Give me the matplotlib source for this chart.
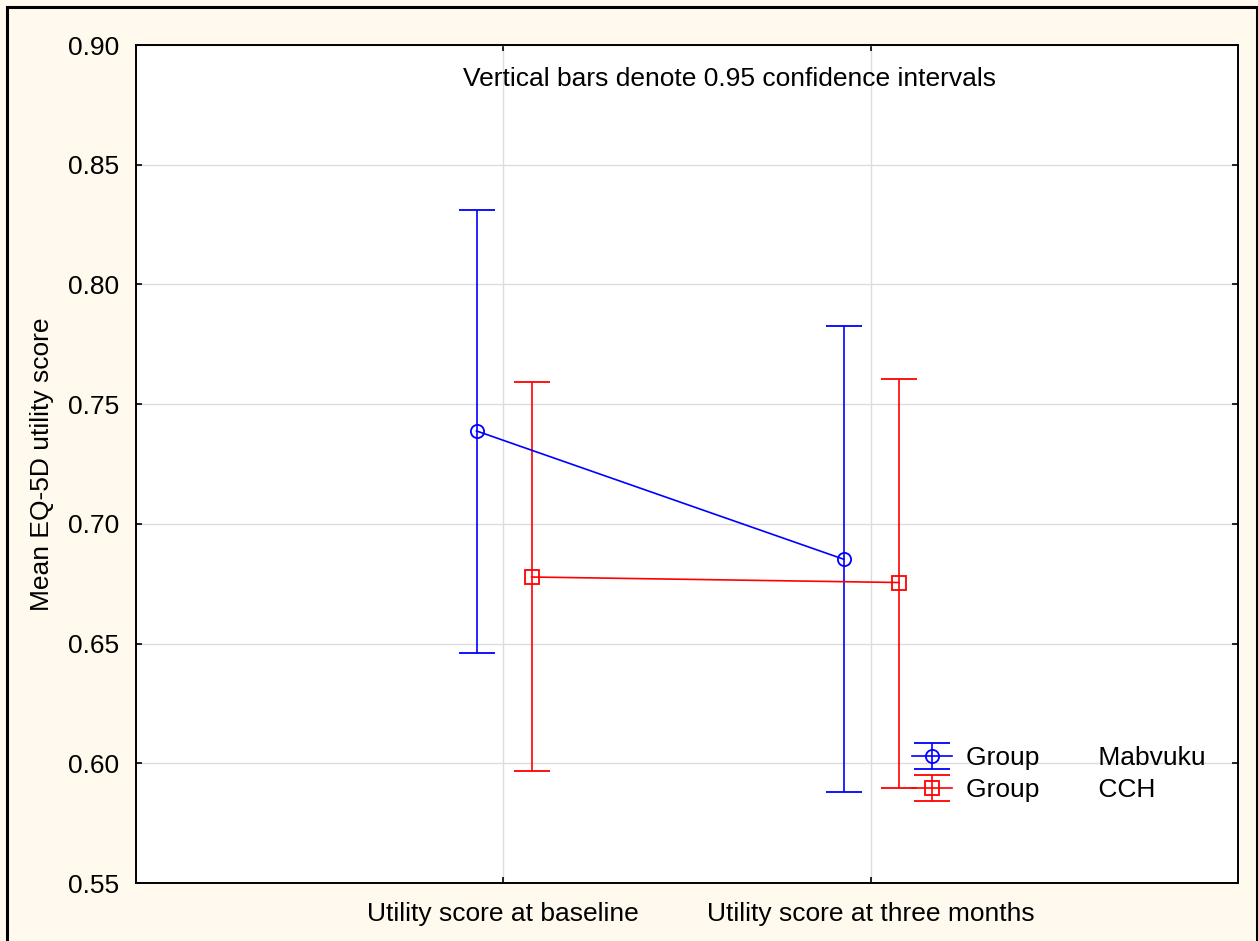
import matplotlib
matplotlib.use("Agg")
import matplotlib.pyplot as plt
from matplotlib.patches import Rectangle
import numpy as np

plt.rcParams['font.family'] = ['Liberation Sans', 'DejaVu Sans']

categories = ["Utility score at baseline", "Utility score at three months"]
mab_mean = [0.7388, 0.6852]
mab_lo = [0.6461, 0.5880]
mab_hi = [0.8311, 0.7826]
cch_mean = [0.6778, 0.6755]
cch_lo = [0.5968, 0.5897]
cch_hi = [0.7592, 0.7605]
yticks = [0.55, 0.60, 0.65, 0.70, 0.75, 0.80, 0.85, 0.90]

W, H = 1258, 941
fig = plt.figure(figsize=(W/100, H/100), dpi=100, facecolor='#FFF9EE')
ax = fig.add_axes([136/W, 1-883/H, (1238-136)/W, (883-45)/H])
ax.set_facecolor('white')

x = np.arange(1, len(categories)+1)
xm = x - 0.073
xc = x + 0.077

mab_mean_a = np.array(mab_mean)
cch_mean_a = np.array(cch_mean)
mab_err = [mab_mean_a - np.array(mab_lo), np.array(mab_hi) - mab_mean_a]
cch_err = [cch_mean_a - np.array(cch_lo), np.array(cch_hi) - cch_mean_a]

cap = 13.3
h1 = ax.errorbar(xm, mab_mean, yerr=mab_err, color='#0000FF', lw=1.2, elinewidth=1.2,
                 capsize=cap, capthick=1.2, marker='o', ms=9.5, mfc='none', mec='#0000FF',
                 mew=1.3, zorder=3, label='Group        Mabvuku')
h2 = ax.errorbar(xc, cch_mean, yerr=cch_err, color='#FF0000', lw=1.2, elinewidth=1.2,
                 capsize=cap, capthick=1.2, marker='s', ms=9.5, mfc='none', mec='#FF0000',
                 mew=1.3, zorder=3, label='Group        CCH')

ax.set_xlim(0, 3)
ax.set_ylim(0.55, 0.90)
ax.set_xticks(x)
ax.set_xticklabels(categories, fontsize=19)
ax.set_yticks(yticks)
ax.set_yticklabels([f"{v:.2f}" for v in yticks], fontsize=19)
ax.tick_params(direction='in', length=4, width=1.2, top=True, right=True, pad=12)
ax.tick_params(axis='x', pad=14)
ax.grid(True, color='#DCDCDC', lw=1.0)
ax.set_axisbelow(True)
for s in ax.spines.values():
    s.set_linewidth(1.4)
    s.set_color('black')

ax.set_ylabel("Mean EQ-5D utility score", fontsize=19)
ax.yaxis.set_label_coords((54-136)/1102, 0.5)
ax.text(0.5386, 0.9594, "Vertical bars denote 0.95 confidence intervals",
        transform=ax.transAxes, ha='center', va='center', fontsize=19)

leg = ax.legend(handles=[h1, h2], loc='upper left',
                bbox_to_anchor=((912-136)/(1238-136), (883-746)/(883-45)),
                frameon=False, fontsize=19, borderpad=0, borderaxespad=0,
                handlelength=1.5, handletextpad=0.55, labelspacing=0.32)

fig.patches.append(Rectangle((7/W, -0.01), (1257-7)/W, 1-7/H+0.01, transform=fig.transFigure,
                             fill=False, edgecolor='black', lw=2.2))

fig.savefig("out.png", dpi=100, facecolor=fig.get_facecolor())
